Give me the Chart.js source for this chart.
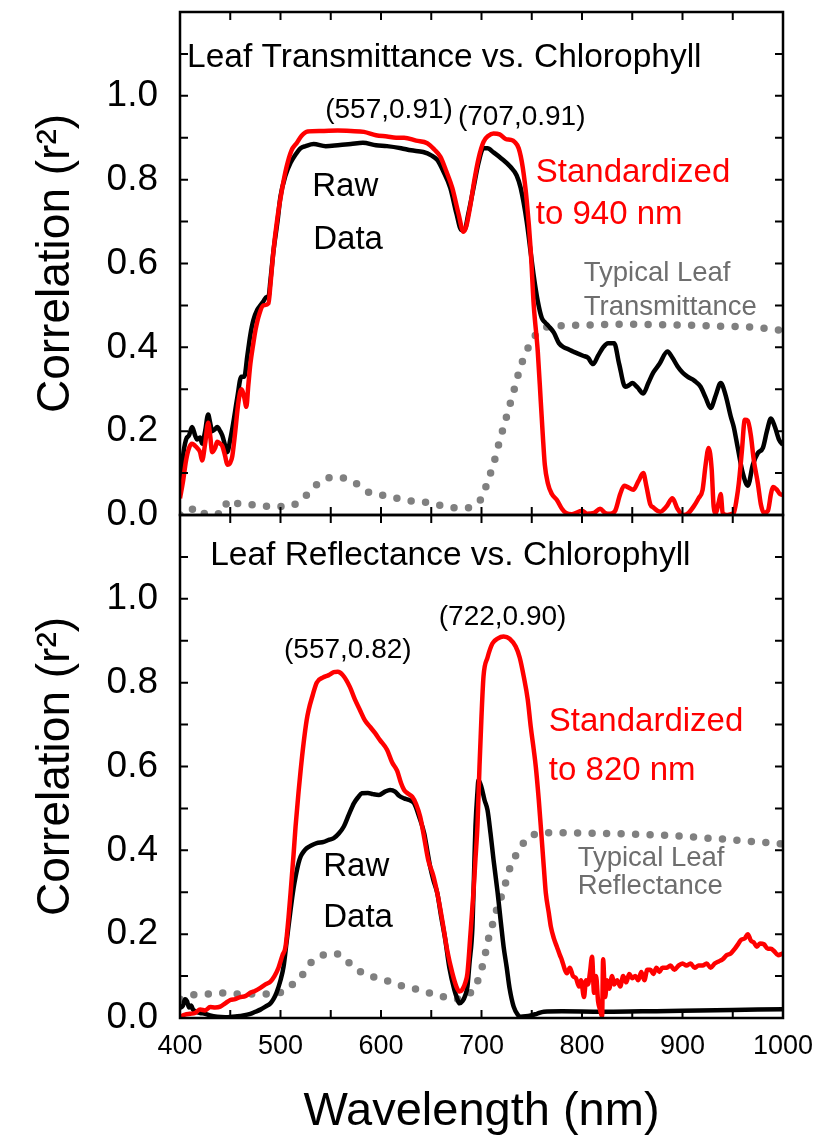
<!DOCTYPE html>
<html>
<head>
<meta charset="utf-8">
<script src="https://cdn.jsdelivr.net/npm/chart.js@4.4.1/dist/chart.umd.min.js"></script>
<style>
  html, body { margin: 0; padding: 0; background: #fff; }
  #wrap { position: relative; width: 817px; height: 1140px; }
  canvas { position: absolute; left: 0; }
</style>
</head>
<body>
<div id="wrap">
  <canvas id="topChart" width="817" height="525" style="top:0"></canvas>
  <canvas id="botChart" width="817" height="635" style="top:505px"></canvas>
</div>
<script>
// axis ticks
const xTicks = [400, 450, 500, 550, 600, 650, 700, 750, 800, 850, 900, 950, 1000];
const xTickLabels = ['400', '500', '600', '700', '800', '900', '1000'];
const yTicks = [0, 0.1, 0.2, 0.3, 0.4, 0.5, 0.6, 0.7, 0.8, 0.9, 1.0, 1.1, 1.2];
const yTickLabels = ['0.0', '0.2', '0.4', '0.6', '0.8', '1.0'];

// --- Leaf transmittance vs chlorophyll ---
const transRawWl = [400,403,406,409,412,415,417,420,422,425,428,430,432,435,437,440,442,445,447,450,453,457,461,464,467,470,473,477,480,483,486,488,490,493,497,500,505,510,515,520,525,533,545,557,570,582,595,606,620,630,642,650,656,662,669,675,680,683,687,692,697,702,706,712,720,729,735,739,745,749,752,756,760,763,767,772,777,782,787,791,796,801,806,811,816,821,826,832,837,843,847,850,855,861,866,871,877,885,890,895,900,905,912,918,923,928,933,938,943,948,951,955,960,965,970,975,980,984,988,992,996,1000];
const transRaw = [0.05,0.14,0.18,0.19,0.21,0.19,0.18,0.185,0.17,0.2,0.24,0.22,0.2,0.205,0.21,0.2,0.19,0.165,0.15,0.18,0.22,0.28,0.33,0.33,0.38,0.43,0.465,0.49,0.5,0.51,0.52,0.52,0.56,0.63,0.7,0.76,0.81,0.84,0.86,0.875,0.88,0.885,0.88,0.882,0.885,0.888,0.882,0.88,0.875,0.87,0.866,0.858,0.847,0.82,0.78,0.72,0.68,0.68,0.72,0.78,0.84,0.875,0.875,0.865,0.85,0.83,0.81,0.78,0.7,0.625,0.57,0.51,0.47,0.46,0.45,0.435,0.41,0.4,0.395,0.39,0.385,0.38,0.375,0.36,0.38,0.4,0.41,0.41,0.36,0.306,0.31,0.315,0.305,0.29,0.315,0.34,0.36,0.39,0.375,0.355,0.34,0.33,0.32,0.306,0.28,0.255,0.285,0.315,0.285,0.235,0.21,0.16,0.1,0.07,0.12,0.148,0.16,0.2,0.23,0.21,0.18,0.167];

const transStdWl = [400,403,406,409,412,415,417,420,422,425,428,430,432,435,437,440,442,445,447,450,452,455,458,461,464,466,468,470,473,475,479,483,488,490,493,497,501,506,511,516,521,527,540,557,570,583,595,606,615,623,635,646,653,659,665,671,677,682,685,689,693,697,702,707,712,718,724,729,733,737,741,745,749,752,756,759,761,763,766,770,775,780,784,790,800,805,812,818,823,828,833,838,842,846,851,856,861,864,868,871,875,878,884,890,895,901,906,911,916,920,923,926,929,931,933,936,938,940,944,948,951,954,956,959,962,965,968,971,975,978,981,985,988,990,994,997,1000];
const transStd = [0.04,0.08,0.13,0.16,0.17,0.165,0.16,0.15,0.13,0.17,0.22,0.19,0.15,0.16,0.175,0.17,0.165,0.14,0.12,0.125,0.14,0.2,0.267,0.3,0.28,0.258,0.31,0.36,0.41,0.44,0.48,0.5,0.505,0.55,0.63,0.71,0.77,0.83,0.87,0.887,0.905,0.915,0.916,0.917,0.916,0.914,0.906,0.903,0.9,0.9,0.893,0.887,0.872,0.855,0.82,0.78,0.72,0.676,0.69,0.74,0.8,0.85,0.89,0.905,0.91,0.908,0.897,0.895,0.89,0.875,0.83,0.75,0.63,0.5,0.39,0.27,0.19,0.12,0.076,0.05,0.036,0.015,0.005,0.002,0.01,0.003,0.005,0.015,0.005,0.003,0.01,0.05,0.07,0.066,0.06,0.08,0.1,0.07,0.025,0.018,0.01,0.008,0.02,0.04,0.015,0.0,0.005,0.02,0.04,0.06,0.12,0.16,0.11,0.02,0.005,0.03,0.05,0.005,0.0,0.002,0.005,0.04,0.075,0.15,0.227,0.225,0.19,0.13,0.075,0.025,0.005,0.01,0.05,0.067,0.06,0.05,0.048];

const transTypWl = [400,405,410,417,423,430,438,444,447,453,461,476,490,504,518,525,531,538,545,552,559,566,574,581,588,595,602,616,631,645,659,673,687,694,700,705,710,714,718,722,726,730,734,738,743,750,756,763,776,800,850,900,940,970,1000];
const transTyp = [0.0,0.0,0.01,0.018,0.005,0.0,0.003,0.006,0.034,0.03,0.026,0.024,0.02,0.02,0.03,0.045,0.062,0.076,0.086,0.09,0.09,0.085,0.077,0.065,0.054,0.05,0.047,0.04,0.033,0.03,0.023,0.017,0.017,0.025,0.04,0.072,0.107,0.139,0.177,0.21,0.244,0.278,0.312,0.348,0.38,0.416,0.435,0.447,0.451,0.453,0.455,0.453,0.45,0.448,0.44];

// --- Leaf reflectance vs chlorophyll ---
const reflRawWl = [400,403,405,407,409,411,413,416,420,425,430,437,445,452,457,463,470,475,480,485,490,493,496,500,503,506,510,513,515,518,520,523,526,531,536,543,548,553,558,563,568,573,577,581,587,592,598,604,609,614,618,623,628,633,638,643,646,649,652,656,660,664,668,673,676,678,681,684,686,688,691,693,694,696,697,700,703,706,709,712,716,719,722,725,728,732,736,739,744,749,755,762,780,820,860,900,950,1000];
const reflRaw = [0.024,0.03,0.045,0.04,0.025,0.03,0.02,0.015,0.012,0.01,0.006,0.003,0.002,0.003,0.004,0.006,0.01,0.015,0.02,0.027,0.035,0.045,0.06,0.09,0.122,0.18,0.258,0.31,0.337,0.37,0.385,0.397,0.405,0.412,0.417,0.42,0.425,0.429,0.44,0.457,0.485,0.512,0.526,0.536,0.537,0.534,0.532,0.54,0.544,0.54,0.53,0.524,0.52,0.512,0.48,0.44,0.4,0.36,0.33,0.298,0.24,0.186,0.12,0.067,0.045,0.035,0.04,0.055,0.075,0.13,0.218,0.38,0.457,0.54,0.568,0.55,0.52,0.496,0.44,0.377,0.3,0.234,0.17,0.122,0.07,0.027,0.008,0.003,0.004,0.006,0.01,0.015,0.016,0.015,0.016,0.017,0.019,0.021];

const reflStdWl = [400,405,410,415,420,425,430,435,440,445,450,455,460,465,470,475,480,485,490,494,498,502,505,508,510,513,515,518,520,523,526,528,532,536,542,548,553,557,562,569,574,579,584,589,594,599,606,611,616,620,623,627,631,635,639,643,647,652,656,659,662,666,671,675,678,681,684,686,689,692,694,696,698,700,702,706,711,716,722,728,734,738,742,746,749,752,754,757,759,762,764,767,769,772,775,778,780,783,785,788,791,794,797,799,802,804,806,808,810,812,814,816,818,820,821,823,825,827,830,832,835,838,841,844,847,850,853,856,859,862,865,868,871,874,877,880,884,888,892,896,900,904,908,912,916,920,924,928,932,936,940,944,948,952,955,958,962,965,968,971,974,977,981,985,988,991,995,1000];
const reflStd = [0.003,0.008,0.01,0.012,0.02,0.018,0.026,0.025,0.027,0.035,0.043,0.045,0.05,0.052,0.06,0.065,0.072,0.08,0.087,0.1,0.12,0.15,0.17,0.24,0.298,0.39,0.457,0.54,0.59,0.656,0.71,0.735,0.77,0.8,0.812,0.818,0.825,0.826,0.818,0.79,0.76,0.735,0.71,0.695,0.68,0.663,0.64,0.61,0.59,0.56,0.544,0.535,0.528,0.51,0.48,0.43,0.377,0.34,0.298,0.26,0.218,0.16,0.107,0.075,0.063,0.068,0.085,0.107,0.2,0.3,0.38,0.46,0.6,0.72,0.815,0.86,0.894,0.905,0.91,0.905,0.886,0.86,0.815,0.76,0.695,0.64,0.6,0.52,0.457,0.36,0.298,0.25,0.218,0.19,0.17,0.15,0.138,0.115,0.107,0.12,0.1,0.095,0.075,0.09,0.05,0.09,0.08,0.11,0.146,0.06,0.1,0.04,0.02,0.003,0.14,0.05,0.09,0.07,0.1,0.08,0.09,0.075,0.1,0.085,0.105,0.095,0.1,0.09,0.11,0.09,0.115,0.115,0.105,0.12,0.11,0.12,0.12,0.125,0.115,0.125,0.13,0.125,0.13,0.12,0.125,0.125,0.13,0.12,0.13,0.135,0.14,0.15,0.154,0.165,0.175,0.186,0.19,0.2,0.185,0.18,0.17,0.178,0.176,0.165,0.165,0.16,0.15,0.154];

const reflTypWl = [400,406,413,427,440,453,467,480,494,501,508,514,521,526,531,538,545,552,558,564,571,578,585,592,599,605,612,619,626,633,639,645,652,660,667,674,680,686,692,698,702,705,708,712,716,721,725,729,736,745,752,759,773,800,830,860,890,920,950,975,1000];
const reflTyp = [0.045,0.05,0.055,0.057,0.06,0.057,0.057,0.057,0.057,0.062,0.071,0.085,0.1,0.118,0.134,0.146,0.152,0.153,0.152,0.14,0.126,0.113,0.103,0.098,0.095,0.09,0.083,0.078,0.074,0.07,0.067,0.062,0.057,0.052,0.047,0.045,0.047,0.055,0.068,0.1,0.134,0.167,0.2,0.231,0.266,0.298,0.331,0.363,0.395,0.427,0.437,0.441,0.442,0.441,0.44,0.438,0.435,0.43,0.425,0.42,0.415];

const FONT = "'Liberation Sans', Arial, sans-serif";

function pts(xs, ys) {
    return xs.map((x, i) => ({ x: x, y: ys[i] }));
}

// inward ticks on all four sides + box
const framePlugin = {
    id: 'frame',
    afterDraw(chart) {
        const { ctx, chartArea: a, scales: { x, y } } = chart;
        ctx.save();
        ctx.strokeStyle = '#000';
        ctx.lineWidth = 2;
        ctx.beginPath();
        xTicks.forEach(v => {
            const p = x.getPixelForValue(v);
            ctx.moveTo(p, a.bottom); ctx.lineTo(p, a.bottom - 8);
            ctx.moveTo(p, a.top); ctx.lineTo(p, a.top + 8);
        });
        yTicks.forEach(v => {
            const p = y.getPixelForValue(v);
            ctx.moveTo(a.left, p); ctx.lineTo(a.left + 8, p);
            ctx.moveTo(a.right, p); ctx.lineTo(a.right - 8, p);
        });
        ctx.stroke();
        ctx.lineWidth = 2.5;
        ctx.strokeRect(a.left, a.top, a.right - a.left, a.bottom - a.top);
        ctx.restore();
    }
};

function notesPlugin(notes) {
    return {
        id: 'notes',
        afterDraw(chart) {
            const { ctx, scales: { x, y } } = chart;
            ctx.save();
            ctx.textBaseline = 'middle';
            notes.forEach(n => {
                ctx.font = n.size + 'px ' + FONT;
                ctx.fillStyle = n.color;
                ctx.textAlign = n.align;
                ctx.fillText(n.text, x.getPixelForValue(n.x), y.getPixelForValue(n.y));
            });
            ctx.restore();
        }
    };
}

function makeChart(id, raw, std, typ, notes, bottom) {
    const ctx = document.getElementById(id).getContext('2d');
    return new Chart(ctx, {
        type: 'line',
        data: {
            datasets: [
                { data: std, borderColor: '#ff0000', borderWidth: 4.5, pointRadius: 0, cubicInterpolationMode: 'monotone' },
                { data: raw, borderColor: '#000000', borderWidth: 4.5, pointRadius: 0, cubicInterpolationMode: 'monotone' },
                { data: typ, borderColor: '#808080', borderWidth: 7.5, borderDash: [0, 14.5], borderCapStyle: 'round',
                  pointRadius: 0, cubicInterpolationMode: 'monotone' }
            ]
        },
        options: {
            responsive: false,
            animation: false,
            layout: { padding: { top: bottom ? 10 : 12, bottom: bottom ? 0 : 10, left: 0, right: 34 } },
            plugins: { legend: { display: false }, tooltip: { enabled: false } },
            scales: {
                x: {
                    type: 'linear', min: 400, max: 1000,
                    display: bottom,
                    afterFit: s => {
                        s.height = bottom ? 122 : 0;
                        s.paddingLeft = 0; s.paddingRight = 0;
                    },
                    grid: { display: false, drawTicks: false },
                    border: { display: false },
                    ticks: {
                        stepSize: 50, autoSkip: false, maxRotation: 0, padding: 12,
                        color: '#000', font: { family: FONT, size: 27 },
                        callback: v => xTickLabels.includes(String(v)) ? String(v) : ''
                    },
                    title: { display: true, text: 'Wavelength (nm)', color: '#000',
                             font: { family: FONT, size: 47 }, padding: { top: 0, bottom: 0 } }
                },
                y: {
                    type: 'linear', min: 0, max: 1.2,
                    afterFit: s => {
                        s.width = 180;
                        s.paddingTop = 0; s.paddingBottom = 0;
                    },
                    grid: { display: false, drawTicks: false },
                    border: { display: false },
                    ticks: {
                        stepSize: 0.1, autoSkip: false, padding: 22,
                        color: '#000', font: { family: FONT, size: 37 },
                        callback: v => { const s = v.toFixed(1); return yTickLabels.includes(s) ? s : ''; }
                    },
                    title: { display: true, text: 'Correlation (r²)', color: '#000',
                             font: { family: FONT, size: 46 }, padding: { top: 29, bottom: 0 } }
                }
            }
        },
        plugins: [framePlugin, notesPlugin(notes)]
    });
}

const topNotes = [
    { text: 'Leaf Transmittance vs. Chlorophyll', x: 407, y: 1.09, size: 33.5, color: '#000', align: 'left' },
    { text: '(557,0.91)', x: 608, y: 0.966, size: 28, color: '#000', align: 'center' },
    { text: '(707,0.91)', x: 740, y: 0.949, size: 28, color: '#000', align: 'center' },
    { text: 'Raw', x: 531.6, y: 0.782, size: 33, color: '#000', align: 'left' },
    { text: 'Data', x: 532.6, y: 0.656, size: 33, color: '#000', align: 'left' },
    { text: 'Standardized', x: 754, y: 0.816, size: 33, color: '#ff0000', align: 'left' },
    { text: 'to 940 nm', x: 754, y: 0.716, size: 33, color: '#ff0000', align: 'left' },
    { text: 'Typical Leaf', x: 801.7, y: 0.577, size: 27.5, color: '#6e6e6e', align: 'left' },
    { text: 'Transmittance', x: 801.7, y: 0.496, size: 27.5, color: '#6e6e6e', align: 'left' }
];

const botNotes = [
    { text: 'Leaf Reflectance vs. Chlorophyll', x: 430, y: 1.103, size: 33.5, color: '#000', align: 'left' },
    { text: '(557,0.82)', x: 567, y: 0.878, size: 28, color: '#000', align: 'center' },
    { text: '(722,0.90)', x: 721, y: 0.957, size: 28, color: '#000', align: 'center' },
    { text: 'Standardized', x: 767, y: 0.706, size: 33, color: '#ff0000', align: 'left' },
    { text: 'to 820 nm', x: 767, y: 0.59, size: 33, color: '#ff0000', align: 'left' },
    { text: 'Raw', x: 542.5, y: 0.36, size: 33, color: '#000', align: 'left' },
    { text: 'Data', x: 542.5, y: 0.239, size: 33, color: '#000', align: 'left' },
    { text: 'Typical Leaf', x: 795.7, y: 0.38, size: 27.5, color: '#6e6e6e', align: 'left' },
    { text: 'Reflectance', x: 795.7, y: 0.313, size: 27.5, color: '#6e6e6e', align: 'left' }
];

makeChart('topChart', pts(transRawWl, transRaw), pts(transStdWl, transStd), pts(transTypWl, transTyp), topNotes, false);
makeChart('botChart', pts(reflRawWl, reflRaw), pts(reflStdWl, reflStd), pts(reflTypWl, reflTyp), botNotes, true);
</script>
</body>
</html>
